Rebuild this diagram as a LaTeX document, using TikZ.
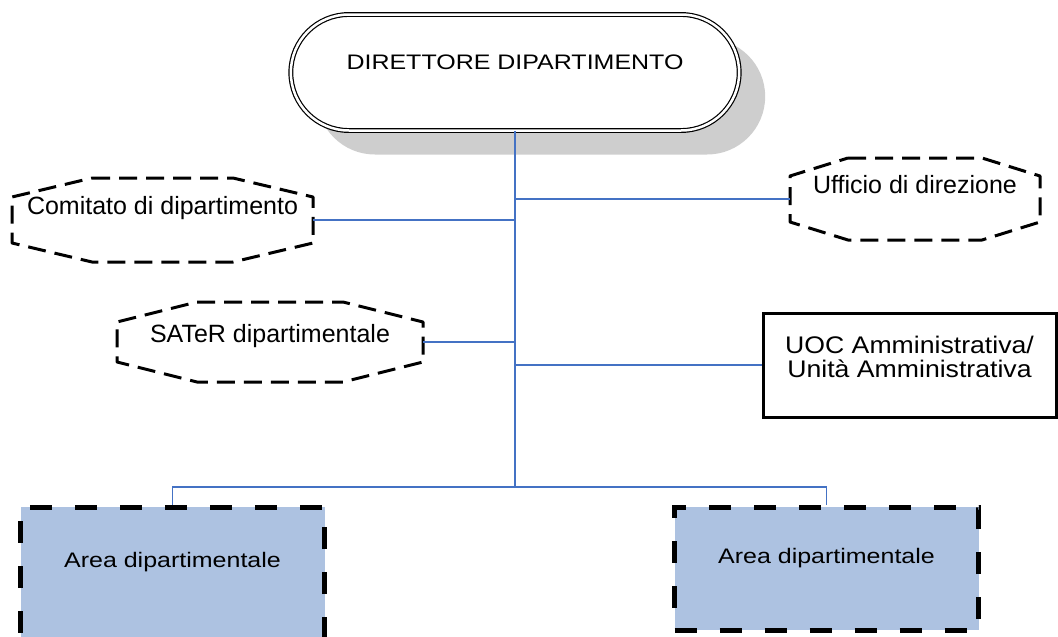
\documentclass[tikz,border=0pt]{standalone}
\usepackage{fontspec}
\setmainfont{Liberation Sans}
\newfontfamily\widefont[FakeStretch=1.19]{Liberation Sans}
\newfontfamily\uocfont[FakeStretch=1.11]{Liberation Sans}
\usetikzlibrary{shapes.misc}
\usetikzlibrary{shadows}

\definecolor{linkblue}{RGB}{68,114,196}
\definecolor{areafill}{RGB}{173,194,225}
\definecolor{shadowgray}{RGB}{206,206,206}

% dashed octagon round a named node: name, x cut, y cut
\newcommand{\octpath}[3]{%
  \draw[octline] ([xshift=#2]#1.north west) -- ([xshift=-#2]#1.north east)
    -- ([yshift=-#3]#1.north east) -- ([yshift=#3]#1.south east)
    -- ([xshift=-#2]#1.south east) -- ([xshift=#2]#1.south west)
    -- ([yshift=#3]#1.south west) -- ([yshift=-#3]#1.north west) -- cycle;}

\begin{document}
\begin{tikzpicture}[x=1pt,y=-1pt,
    every node/.style={font=\fontsize{25}{28}\selectfont},
    link/.style={draw=linkblue,line width=1.5pt},
    octbox/.style={rectangle,outer sep=0pt,text height=18pt},
    octline/.style={line width=3pt,dash pattern=on 18pt off 9pt,line join=round},
    areabox/.style={rectangle,draw,fill=areafill,line width=5pt,dash pattern=on 22pt off 23pt,
        minimum width=304pt,font=\widefont\fontsize{21}{24}\selectfont,text height=15pt}]

        \useasboundingbox (0,0) rectangle (1058,637);

        \node[rounded rectangle,draw,double,double distance=2.5pt,line width=1.2pt,fill=white,
            minimum width=455pt,minimum height=116pt,
            drop shadow={shadow xshift=26pt,shadow yshift=-24pt,fill=shadowgray,opacity=1},
            font=\widefont\fontsize{21}{24}\selectfont,text height=15pt,text depth=21pt]
            (dir) at (515,72.5) {DIRETTORE DIPARTIMENTO};

        \node[octbox,minimum width=301pt,minimum height=84pt,text depth=30pt] (comitato) at (162.5,220) {Comitato di dipartimento};
        \node[octbox,minimum width=306pt,minimum height=80pt,text depth=17pt] (sater) at (270,342) {SATeR dipartimentale};
        \node[octbox,minimum width=250pt,minimum height=82pt,text depth=30pt] (ufficio) at (915,199) {Ufficio di direzione};
        \octpath{comitato}{80pt}{19pt}
        \octpath{sater}{80pt}{20pt}
        \octpath{ufficio}{58pt}{18pt}

        \node[rectangle,draw,line width=3pt,minimum width=293pt,minimum height=104pt,align=center,
            font=\uocfont\fontsize{24}{23.5}\selectfont,text height=25pt,text depth=1pt]
            (uoc) at (909.5,365) {UOC Amministrativa/\\Unità Amministrativa};

        \node[areabox,minimum height=143pt,text depth=37pt] (areaL) at (172.5,578.5) {Area dipartimentale};
        \node[areabox,minimum height=123pt,text depth=26pt] (areaR) at (826.5,568.5) {Area dipartimentale};

        \coordinate (hub) at (dir.south |- 0,487);

        \draw[link] (dir.south) -- (hub);
        \draw[link] (comitato.east) -- (comitato.east -| hub);
        \draw[link] (ufficio.west) -- (ufficio.west -| hub);
        \draw[link] (sater.east) -- (sater.east -| hub);
        \draw[link] (uoc.west) -- (uoc.west -| hub);
        \draw[link] (areaL.north) |- (hub) -| (areaR.north);
      \end{tikzpicture}
\end{document}
